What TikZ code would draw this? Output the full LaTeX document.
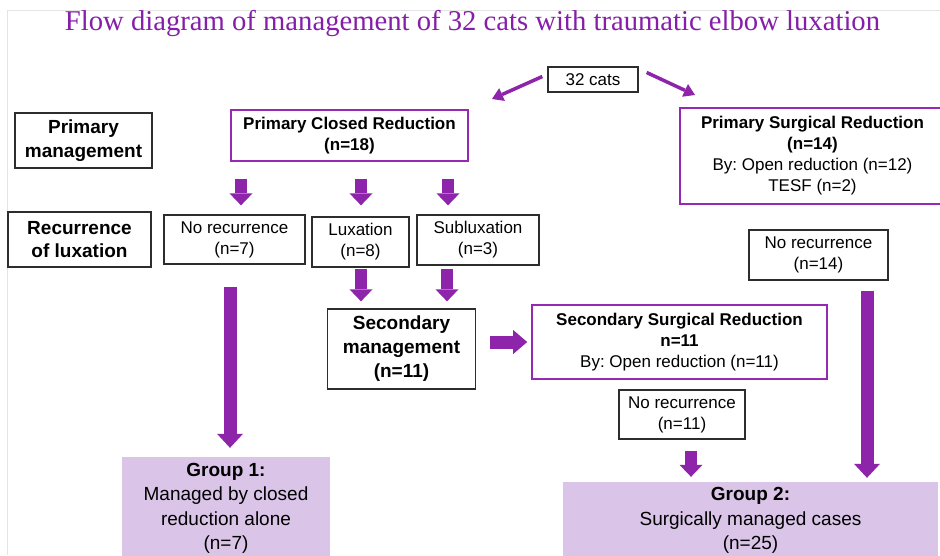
\documentclass[tikz,border=0pt]{standalone}
\usepackage{fontspec}
\setsansfont{Liberation Sans}
\newfontfamily\ttlfont{Liberation Serif}
\usetikzlibrary{arrows.meta,calc}
\definecolor{ttl}{RGB}{133,30,168}
\definecolor{apurple}{RGB}{142,36,170}
\definecolor{bpurple}{RGB}{150,40,180}
\definecolor{gfill}{RGB}{218,196,232}
\definecolor{bline}{RGB}{45,45,45}
\definecolor{frm}{RGB}{228,228,228}
\newcommand{\fsz}[2]{\fontsize{#1}{#2}\selectfont}
\frenchspacing
\begin{document}
\begin{tikzpicture}[x=1pt,y=-1pt,
  base/.style={inner sep=0pt, align=center, font=\sffamily\fsz{17}{21}},
  bbox/.style={base, draw=bline, line width=1.3pt},
  pbox/.style={base, draw=bpurple, line width=1.6pt},
  lbl/.style={bbox, font=\sffamily\bfseries\fsz{19}{23.5}},
  gbox/.style={base, fill=gfill, font=\sffamily\fsz{19}{24.5}},
  thinarr/.style={apurple, line width=3.5pt, -{Triangle[width=14pt,length=11pt,line width=0pt]}},
  sarr/.style={apurple, line width=12pt, -{Triangle[width=23pt,length=12pt,line width=0pt]}},
  harr/.style={apurple, line width=13pt, -{Triangle[width=24pt,length=14pt,line width=0pt]}},
  bigarr/.style={apurple, line width=13pt, -{Triangle[width=26pt,length=14pt,line width=0pt]}}
]
\useasboundingbox (0,0) rectangle (940,555);
\fill[white] (0,0) rectangle (940,555);
\draw[frm, line width=1pt] (7,555) -- (7,10) -- (940,10);

\node[anchor=base, text=ttl, inner sep=0pt, font=\ttlfont\fsz{24}{28}] (title) at (472.5,30)
  {\resizebox{815pt}{!}{Flow diagram of management of 32 cats with traumatic elbow luxation}};

\node[bbox, minimum width=90pt, minimum height=25pt] (cats) at (593,79.5) {32 cats};

\node[lbl, minimum width=137pt, minimum height=55pt] (pm) at (83.5,140.5) {Primary\\management};
\node[pbox, minimum width=237pt, minimum height=51pt] (pcr) at (349.5,135.5)
  {\textbf{Primary Closed Reduction}\\\textbf{(n=18)}};
\node[pbox, minimum width=265pt, minimum height=96pt] (psr) at (812.5,156)
  {\textbf{Primary Surgical Reduction}\\\textbf{(n=14)}\\By: Open reduction (n=12)\\TESF (n=2)};

\node[lbl, minimum width=143pt, minimum height=55pt] (rec) at (79.5,239.5) {Recurrence\\of luxation};
\node[bbox, minimum width=141pt, minimum height=49pt] (nr7) at (234.5,239.5) {No recurrence\\(n=7)};
\node[bbox, minimum width=97pt, minimum height=50pt] (lux) at (360.5,242) {Luxation\\(n=8)};
\node[bbox, minimum width=122pt, minimum height=50pt] (sub) at (478,240) {Subluxation\\(n=3)};
\node[bbox, minimum width=139pt, minimum height=50pt] (nr14) at (818.5,255) {No recurrence\\(n=14)};

\node[lbl, minimum width=148pt, minimum height=80pt, font=\sffamily\bfseries\fsz{19}{24}] (sm) at (401.5,349)
  {Secondary\\management\\(n=11)};
\node[pbox, minimum width=295pt, minimum height=74pt] (ssr) at (679.5,342)
  {\textbf{Secondary Surgical Reduction}\\\textbf{n=11}\\By: Open reduction (n=11)};
\node[bbox, minimum width=126pt, minimum height=49pt] (nr11) at (682,414.5) {No recurrence\\(n=11)};

\node[gbox, minimum width=208pt, minimum height=103pt] (g1) at (226,508.5)
  {\textbf{Group 1:}\\Managed by closed\\reduction alone\\(n=7)};
\node[gbox, minimum width=375pt, minimum height=77pt] (g2) at (750.5,520.5)
  {\textbf{Group 2:}\\Surgically managed cases\\(n=25)};

\coordinate (xa) at (241,0);
\coordinate (xb) at (361,0);
\coordinate (xc) at (448,0);
\coordinate (xd) at (447,0);
\coordinate (xe) at (230,0);
\coordinate (xf) at (867,0);
\coordinate (xg) at (691,0);
\coordinate (ltip) at (492,99);
\coordinate (rtip) at (695,95);

\draw[thinarr] ($(cats.west)+(-5,-3)$) -- (ltip);
\draw[thinarr] ($(cats.east)+(8,-7)$) -- (rtip);

\draw[sarr] ($(pcr.south -| xa)+(0,17)$) -- ($(nr7.north -| xa)+(0,-9)$);
\draw[sarr] ($(pcr.south -| xb)+(0,17)$) -- ($(lux.north -| xb)+(0,-11)$);
\draw[sarr] ($(pcr.south -| xc)+(0,17)$) -- ($(sub.north -| xc)+(0,-9)$);
\draw[sarr] ($(lux.south -| xb)+(0,1)$) -- ($(sm.north -| xb)+(0,-7)$);
\draw[sarr] ($(sub.south -| xd)+(0,3)$) -- ($(sm.north -| xd)+(0,-7)$);
\draw[harr] ($(sm.east)+(14,-7)$) -- ($(ssr.west |- sm.east)+(-4,-7)$);
\draw[bigarr] ($(nr7.south -| xe)+(0,22)$) -- ($(g1.north -| xe)+(0,-9)$);
\draw[bigarr] ($(nr14.south -| xf)+(0,10)$) -- ($(g2.north -| xf)+(0,-4)$);
\draw[sarr] ($(nr11.south -| xg)+(0,11)$) -- ($(g2.north -| xg)+(0,-5)$);
\end{tikzpicture}
\end{document}
